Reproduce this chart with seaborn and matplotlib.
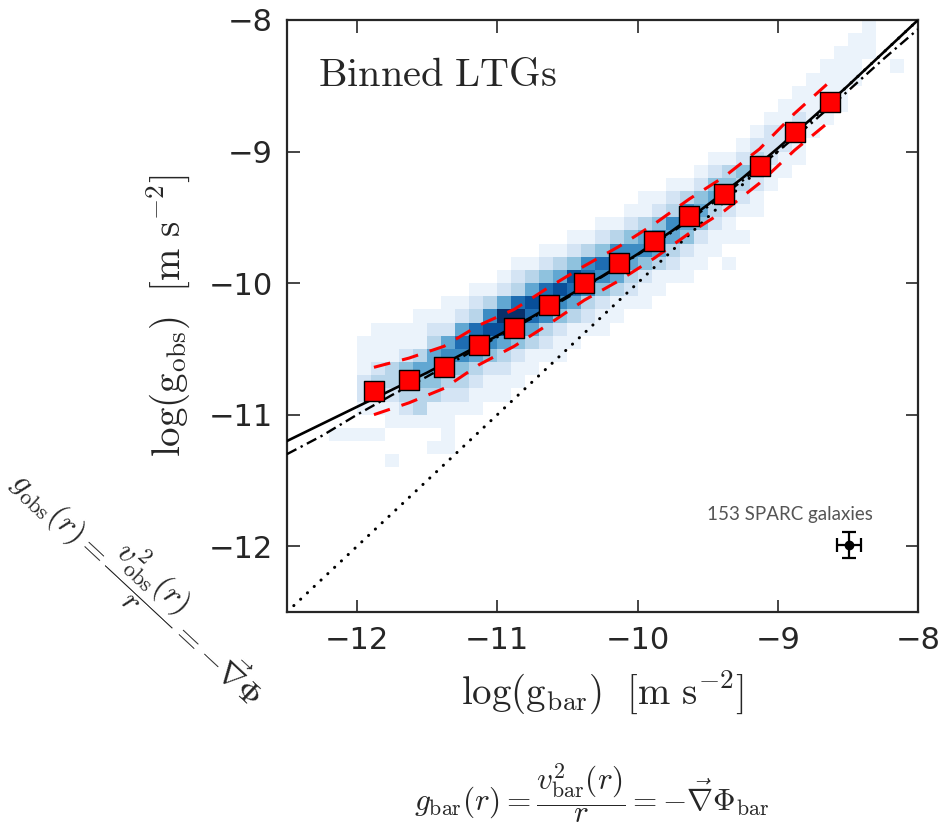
import numpy as np
import pandas as pd
import matplotlib
matplotlib.use("Agg")
import matplotlib.pyplot as plt
import seaborn as sns

# ---------------- data ----------------
# binned mean points (red squares) and their scatter (red dashed band)
bin_x = [-11.88, -11.63, -11.38, -11.13, -10.88, -10.63, -10.38,
         -10.13, -9.88, -9.63, -9.38, -9.13, -8.88, -8.63]
bin_y = [-10.82, -10.74, -10.64, -10.47, -10.34, -10.17, -10.00,
         -9.85, -9.68, -9.49, -9.32, -9.11, -8.85, -8.62]
bin_sig = [0.18, 0.17, 0.16, 0.15, 0.14, 0.14, 0.13,
           0.13, 0.13, 0.13, 0.13, 0.13, 0.14, 0.15]

# curves (read at regular x positions)
curve_x = [-12.5, -12.25, -12.0, -11.75, -11.5, -11.25, -11.0, -10.75, -10.5,
           -10.25, -10.0, -9.75, -9.5, -9.25, -9.0, -8.75, -8.5, -8.25, -8.0]
fit_solid_y = [-11.20, -11.07, -10.94, -10.81, -10.68, -10.54, -10.40, -10.255, -10.10,
               -9.945, -9.78, -9.60, -9.405, -9.20, -8.975, -8.74, -8.50, -8.25, -8.00]
fit_dashdot_y = [-11.30, -11.16, -11.00, -10.85, -10.71, -10.56, -10.41, -10.265, -10.11,
                 -9.95, -9.785, -9.61, -9.42, -9.22, -9.00, -8.775, -8.54, -8.30, -8.07]
unity_x = [-12.5, -8.0]
unity_y = [-12.5, -8.0]

# 2D histogram of individual points: column centre, lowest cell edge, cell levels (bottom->top)
hm_x = [-12.15, -12.05, -11.95, -11.85, -11.75, -11.65, -11.55, -11.45, -11.35, -11.25,
        -11.15, -11.05, -10.95, -10.85, -10.75, -10.65, -10.55, -10.45, -10.35, -10.25,
        -10.15, -10.05, -9.95, -9.85, -9.75, -9.65, -9.55, -9.45, -9.35, -9.25,
        -9.15, -9.05, -8.95, -8.85, -8.75, -8.65, -8.55, -8.45, -8.35, -8.15]
hm_ylow = [-11.2, -11.2, -11.2, -11.2, -11.4, -11.1, -11.1, -11.3, -11.3, -11.0,
           -11.0, -10.9, -10.9, -10.8, -10.7, -10.6, -10.6, -10.5, -10.4, -10.4,
           -10.3, -10.2, -10.2, -10.1, -10.0, -10.0, -9.9, -9.8, -9.9, -9.7,
           -9.5, -9.3, -9.2, -9.1, -8.9, -8.8, -8.7, -8.5, -8.3, -8.4]
hm_levels = ["1", "1", "10122111", "101232111", "10011233111", "12334211", "133453111",
             "10113455321", "111123565211", "123467521",
             "1123587321", "112468631", "1123589521", "1124697321", "113578531",
             "123687421", "112468531", "113578421", "12367631", "112467421",
             "11357631", "12356421", "112465311", "11356421", "12356321",
             "11245631", "11245421", "11235421", "101123431", "10123421",
             "1123321", "112221", "112211", "111211", "11111", "11111", "11111",
             "1111", "111", "1"]

# representative error bar
err_x = [-8.49]
err_y = [-11.99]
err_xe = [0.085]
err_ye = [0.10]

ticks = [-12, -11, -10, -9, -8]

# ---------------- plotting ----------------
sns.set_style("ticks")
plt.rcParams["mathtext.fontset"] = "cm"
plt.rcParams["font.family"] = ["DejaVu Sans"]

fig = plt.figure(figsize=(9.47, 8.30), dpi=100)
ax = fig.add_axes([287 / 947, 1 - 612 / 830, (918 - 287) / 947, (612 - 20) / 830])

cx, cy, cw = [], [], []
for x, y0, lev in zip(hm_x, hm_ylow, hm_levels):
    for i, ch in enumerate(lev):
        if ch != "0":
            cx.append(x)
            cy.append(y0 + 0.05 + 0.1 * i)
            cw.append(int(ch))
df = pd.DataFrame({"x": cx, "y": cy, "w": cw})
sns.histplot(data=df, x="x", y="y", weights="w", binwidth=0.1,
             binrange=((-12.2, -8.0), (-11.5, -8.0)), cmap="Blues",
             vmin=0.5, vmax=9.0, cbar=False, ax=ax, zorder=1)

# 1:1 line
sns.lineplot(x=unity_x, y=unity_y, color="k", lw=2.2, linestyle=(0, (0.05, 3.0)),
             dash_capstyle="round", ax=ax, zorder=2)
# fits
sns.lineplot(x=curve_x, y=fit_dashdot_y, color="k", lw=1.7, linestyle=(0, (4.5, 2, 1, 2)),
             sort=False, estimator=None, ax=ax, zorder=3)
sns.lineplot(x=curve_x, y=fit_solid_y, color="k", lw=1.9, sort=False, estimator=None,
             ax=ax, zorder=3)

# scatter band
up = [y + s for y, s in zip(bin_y, bin_sig)]
lo = [y - s for y, s in zip(bin_y, bin_sig)]
sns.lineplot(x=bin_x, y=up, color="red", lw=2.2, linestyle=(0, (5.5, 4)),
             sort=False, estimator=None, ax=ax, zorder=4)
sns.lineplot(x=bin_x, y=lo, color="red", lw=2.2, linestyle=(0, (5.5, 4)),
             sort=False, estimator=None, ax=ax, zorder=4)

sns.scatterplot(x=bin_x, y=bin_y, marker="s", s=215, color="red", edgecolor="black",
                linewidth=1.0, ax=ax, zorder=5)

ax.errorbar(err_x, err_y, xerr=err_xe, yerr=err_ye, fmt="o", color="k", ms=6,
            capsize=5, elinewidth=1.6, capthick=1.6, zorder=6)
ax.text(-8.32, -11.80, "153 SPARC galaxies", family=["Lato", "DejaVu Sans"],
        fontsize=13.5, color="#555555", ha="right", va="baseline")

ax.set_xlim(-12.5, -8.0)
ax.set_ylim(-12.5, -8.0)
ax.set_xticks(ticks)
ax.set_yticks(ticks)
ax.tick_params(direction="in", length=9, width=1.2, top=True, right=True,
               labelsize=22, pad=10)
for sp in ax.spines.values():
    sp.set_linewidth(1.6)
    sp.set_visible(True)

ax.set_xlabel(r"$\log(\mathrm{g_{bar}})\ \ [\mathrm{m\ s^{-2}}]$", fontsize=28, labelpad=10)
ax.set_ylabel(r"$\log(\mathrm{g_{obs}})\ \ [\mathrm{m\ s^{-2}}]$", fontsize=28, labelpad=12)

ax.text(0.049, 0.907, r"$\mathrm{Binned\ LTGs}$", transform=ax.transAxes,
        fontsize=29, va="center", ha="left")

fig.text(141 / 947, 1 - 584 / 830,
         r"$g_{\rm obs}(r) = \dfrac{v^2_{\rm obs}(r)}{r} = -\vec{\nabla}\Phi$",
         rotation=-43, rotation_mode="anchor", ha="center", va="center", fontsize=23)
fig.text(592 / 947, 1 - 794 / 830,
         r"$g_{\rm bar}(r) = \dfrac{v^2_{\rm bar}(r)}{r} = -\vec{\nabla}\Phi_{\rm bar}$",
         ha="center", va="center", fontsize=22.5)

fig.savefig("out.png", dpi=100)
